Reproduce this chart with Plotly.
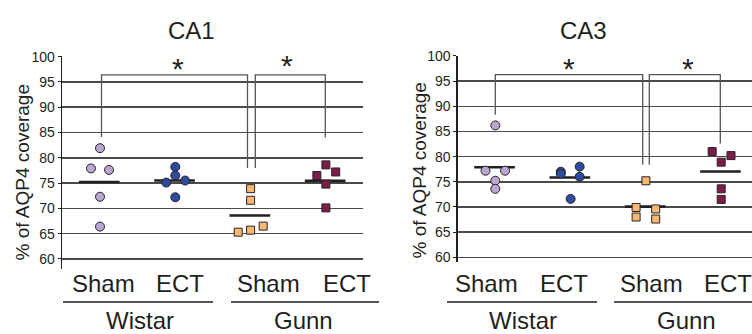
import plotly.graph_objects as go

W, H = 752, 334

categories = ["Wistar Sham", "Wistar ECT", "Gunn Sham", "Gunn ECT"]
tick_vals = [60, 65, 70, 75, 80, 85, 90, 95, 100]

# CA1 values
ca1_wistar_sham = [81.9, 77.9, 77.6, 72.3, 66.4]
ca1_wistar_ect = [78.2, 76.5, 75.1, 75.5, 72.2]
ca1_gunn_sham = [73.9, 71.6, 65.3, 65.7, 66.5]
ca1_gunn_ect = [78.6, 77.2, 76.5, 74.8, 70.1]
# CA3 values
ca3_wistar_sham = [86.2, 77.2, 77.2, 75.2, 73.6]
ca3_wistar_ect = [77.0, 76.6, 78.0, 76.0, 71.6]
ca3_gunn_sham = [75.2, 69.9, 69.6, 68.0, 67.6]
ca3_gunn_ect = [81.0, 80.2, 78.9, 73.6, 71.5]

# horizontal spread of points within a group (category units)
ca1_jitter = [
    [0, -0.12, 0.12, 0, 0],
    [0, 0, -0.12, 0.13, 0],
    [0, 0, -0.165, 0, 0.167],
    [0, 0.13, -0.12, 0, 0],
]
ca3_jitter = [
    [0, -0.13, 0.13, 0, 0],
    [-0.13, -0.13, 0.12, 0.12, 0],
    [0, -0.13, 0.13, -0.13, 0.13],
    [-0.12, 0.13, 0, 0, 0],
]

styles = [
    dict(symbol="circle", color="#b9a7d1", size=9),
    dict(symbol="circle", color="#2d4b9d", size=9),
    dict(symbol="square", color="#f6b872", size=8),
    dict(symbol="square", color="#7b1d49", size=8),
]

TXT = "#231f20"
FONT = "Liberation Sans, Arial, sans-serif"

fig = go.Figure()

def add_panel(series, jitter, xa, ya):
    for i, vals in enumerate(series):
        m = sum(vals) / len(vals)
        fig.add_trace(go.Scatter(
            x=[i - 0.28, i + 0.26], y=[m, m], mode="lines",
            xaxis=xa, yaxis=ya, showlegend=False, hoverinfo="skip",
            line=dict(color="#231f20", width=2.6),
        ))
    for i, vals in enumerate(series):
        st = styles[i]
        fig.add_trace(go.Scatter(
            x=[i + j for j in jitter[i]], y=vals, mode="markers",
            xaxis=xa, yaxis=ya, showlegend=False, cliponaxis=False, hoverinfo="skip",
            marker=dict(symbol=st["symbol"], size=st["size"], color=st["color"],
                        line=dict(color="#2b2226", width=1)),
        ))

add_panel([ca1_wistar_sham, ca1_wistar_ect, ca1_gunn_sham, ca1_gunn_ect], ca1_jitter, "x", "y")
add_panel([ca3_wistar_sham, ca3_wistar_ect, ca3_gunn_sham, ca3_gunn_ect], ca3_jitter, "x2", "y2")

def px2x(px, c0, step=75.3):
    return (px - c0) / step

c1 = 100.0
c3 = 495.3

yaxis_common = dict(
    tickvals=tick_vals, showgrid=True, gridcolor="#4a4a4a", gridwidth=1.5,
    showline=True, linecolor="#231f20", linewidth=1.3, ticks="outside",
    ticklen=3, tickcolor="#231f20", zeroline=False,
    tickfont=dict(family=FONT, size=14, color=TXT),
)
xaxis_common = dict(showgrid=False, showticklabels=False, showline=False,
                    zeroline=False, ticks="")

fig.update_layout(
    width=W, height=H, margin=dict(l=0, r=0, t=0, b=0),
    paper_bgcolor="white", plot_bgcolor="white",
    xaxis=dict(xaxis_common, domain=[62 / W, 363 / W], anchor="y",
               range=[px2x(62, c1), px2x(363, c1)]),
    yaxis=dict(yaxis_common, domain=[1 - 270 / H, 1 - 50 / H], anchor="x",
               range=[58, 100.05]),
    xaxis2=dict(xaxis_common, domain=[457.7 / W, 1.0], anchor="y2",
                range=[px2x(457.7, c3), px2x(752, c3)]),
    yaxis2=dict(yaxis_common, domain=[1 - 263 / H, 1 - 49.3 / H], anchor="x2",
                range=[59, 100.05]),
)

shapes = []
ann = []

def bracket(xa, ya, x0, x1, top, leg0, leg1):
    shapes.append(dict(type="path", xref=xa, yref=ya,
                       path=f"M {x0},{leg0} L {x0},{top} L {x1},{top} L {x1},{leg1}",
                       line=dict(color="#555555", width=1.3)))

bracket("x", "y", px2x(101.5, c1), px2x(247.5, c1), 96.4, 84.1, 78.0)
bracket("x", "y", px2x(255.3, c1), px2x(325.3, c1), 96.4, 78.0, 84.0)
bracket("x2", "y2", px2x(495.3, c3), px2x(642.7, c3), 96.3, 88.3, 78.4)
bracket("x2", "y2", px2x(649.3, c3), px2x(720.3, c3), 96.3, 78.4, 82.6)

def star(xa, ya, x, y):
    ann.append(dict(text="*", xref=xa, yref=ya, x=x, y=y, showarrow=False,
                    font=dict(family=FONT, size=30, color=TXT), yanchor="middle"))

star("x", "y", px2x(178, c1), 97.7)
star("x", "y", px2x(287, c1), 98.2)
star("x2", "y2", px2x(568.7, c3), 97.6)
star("x2", "y2", px2x(687.7, c3), 97.6)

def ptext(text, px, py, size, angle=0):
    ann.append(dict(text=text, xref="paper", yref="paper", x=px / W, y=1 - py / H,
                    xanchor="center", yanchor="middle", showarrow=False, textangle=angle,
                    font=dict(family=FONT, size=size, color=TXT)))

ptext("CA1", 192, 23, 24)
ptext("CA3", 583, 23, 24)
ptext("% of AQP4 coverage", 22, 170, 19, -90)
ptext("% of AQP4 coverage", 419, 168, 19, -90)
for lab, px in zip(["Sham", "ECT", "Sham", "ECT"], [103, 180, 268, 347]):
    ptext(lab, px, 285, 24)
for lab, px in zip(["Sham", "ECT", "Sham", "ECT"], [486, 564, 651, 728]):
    ptext(lab, px, 285, 24)
for lab, px in zip(["Wistar", "Gunn", "Wistar", "Gunn"], [140, 303, 523, 686]):
    ptext(lab, px, 323, 24)
for x0, x1 in [(63, 213), (231, 379), (447, 597), (614, 752)]:
    shapes.append(dict(type="line", xref="paper", yref="paper",
                       x0=x0 / W, x1=x1 / W, y0=1 - 304 / H, y1=1 - 304 / H,
                       line=dict(color="#231f20", width=1.5)))

fig.update_layout(shapes=shapes, annotations=ann, hovermode=False)
fig.write_html("out.html", config={"displayModeBar": False, "staticPlot": True},
               post_script="document.body.style.margin='0';document.body.style.overflow='hidden';")
